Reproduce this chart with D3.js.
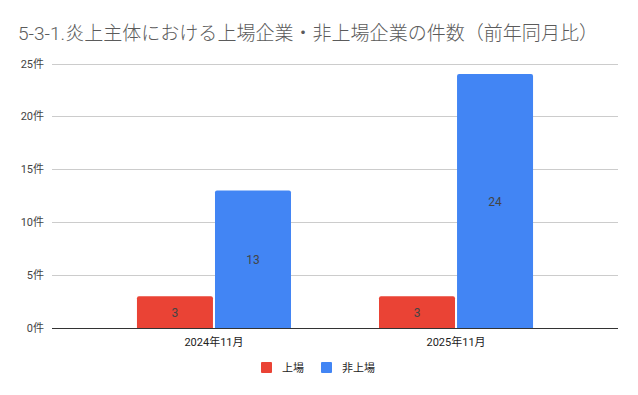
<!DOCTYPE html>
<html>
<head>
<meta charset="utf-8">
<script src="https://cdn.jsdelivr.net/npm/d3@7"></script>
<style>
  body { margin: 0; background: #fff; }
  text { font-family: Roboto, "Noto Sans CJK JP", sans-serif; }
</style>
</head>
<body>
<div id="chart"></div>
<script>
const width = 638;
const height = 395;

const title = "5-3-1.炎上主体における上場企業・非上場企業の件数（前年同月比）";
const categories = ["2024年11月", "2025年11月"];
const seriesNames = ["上場", "非上場"];
const listed = [3, 3];
const unlisted = [13, 24];
const yTicks = [0, 5, 10, 15, 20, 25];
const colors = ["#ea4335", "#4285f4"];

const plot = { left: 52, right: 618, top: 63.5, bottom: 328 };

const svg = d3.select("#chart")
  .append("svg")
  .attr("width", width)
  .attr("height", height);

svg.append("rect").attr("width", width).attr("height", height).attr("fill", "#fff");

svg.append("text")
  .attr("x", 18)
  .attr("y", 40)
  .attr("font-size", 19)
  .attr("font-weight", 300)
  .attr("fill", "#5b5b5b")
  .attr("textLength", 580)
  .attr("lengthAdjust", "spacingAndGlyphs")
  .text(title);

const y = d3.scaleLinear().domain([0, 25]).range([plot.bottom, plot.top]);

const x0 = d3.scaleBand()
  .domain(categories)
  .range([plot.left, plot.right])
  .paddingInner(0.3636)
  .paddingOuter(0.351);

const x1 = d3.scaleBand()
  .domain(seriesNames)
  .range([0, x0.bandwidth()])
  .paddingInner(0.026);

// gridlines
svg.append("g")
  .selectAll("line")
  .data(yTicks.filter(d => d > 0))
  .join("line")
  .attr("x1", plot.left)
  .attr("x2", plot.right)
  .attr("y1", d => Math.round(y(d)) + 0.5)
  .attr("y2", d => Math.round(y(d)) + 0.5)
  .attr("stroke", "#cccccc")
  .attr("stroke-width", 1);

// y labels
svg.append("g")
  .selectAll("text")
  .data(yTicks)
  .join("text")
  .attr("x", 44)
  .attr("y", d => y(d) + 4)
  .attr("text-anchor", "end")
  .attr("font-size", 11)
  .attr("fill", "#444")
  .text(d => d + "件");

// bars
const rows = categories.map((c, i) => ({ cat: c, vals: [listed[i], unlisted[i]] }));

const groups = svg.append("g")
  .selectAll("g")
  .data(rows)
  .join("g")
  .attr("transform", d => `translate(${x0(d.cat)},0)`);

groups.selectAll("path")
  .data(d => d.vals.map((v, j) => ({ v, s: seriesNames[j], j })))
  .join("path")
  .attr("fill", d => colors[d.j])
  .attr("d", d => {
    const bx = x1(d.s), bw = x1.bandwidth();
    const top = y(d.v), bot = y(0), r = 2;
    return `M${bx},${bot}V${top + r}Q${bx},${top} ${bx + r},${top}H${bx + bw - r}Q${bx + bw},${top} ${bx + bw},${top + r}V${bot}Z`;
  });

groups.selectAll("text")
  .data(d => d.vals.map((v, j) => ({ v, s: seriesNames[j] })))
  .join("text")
  .attr("x", d => x1(d.s) + x1.bandwidth() / 2)
  .attr("y", d => (y(d.v) + y(0)) / 2 + 4.5)
  .attr("text-anchor", "middle")
  .attr("font-size", 12)
  .attr("fill", "#444")
  .text(d => d.v);

// baseline
svg.append("line")
  .attr("x1", plot.left)
  .attr("x2", plot.right)
  .attr("y1", plot.bottom + 0.5)
  .attr("y2", plot.bottom + 0.5)
  .attr("stroke", "#333")
  .attr("stroke-width", 1);

// x labels
svg.append("g")
  .selectAll("text")
  .data(categories)
  .join("text")
  .attr("x", d => x0(d) + x0.bandwidth() / 2)
  .attr("y", 346)
  .attr("text-anchor", "middle")
  .attr("font-size", 11)
  .attr("fill", "#222")
  .text(d => d);

// legend
const legendX = [261, 321];
const legend = svg.append("g")
  .selectAll("g")
  .data(seriesNames)
  .join("g")
  .attr("transform", (d, i) => `translate(${legendX[i]},362)`);

legend.append("rect")
  .attr("width", 11)
  .attr("height", 11)
  .attr("rx", 1)
  .attr("fill", (d, i) => colors[i]);

legend.append("text")
  .attr("x", 21)
  .attr("y", 10)
  .attr("font-size", 11)
  .attr("fill", "#222")
  .text(d => d);
</script>
</body>
</html>
